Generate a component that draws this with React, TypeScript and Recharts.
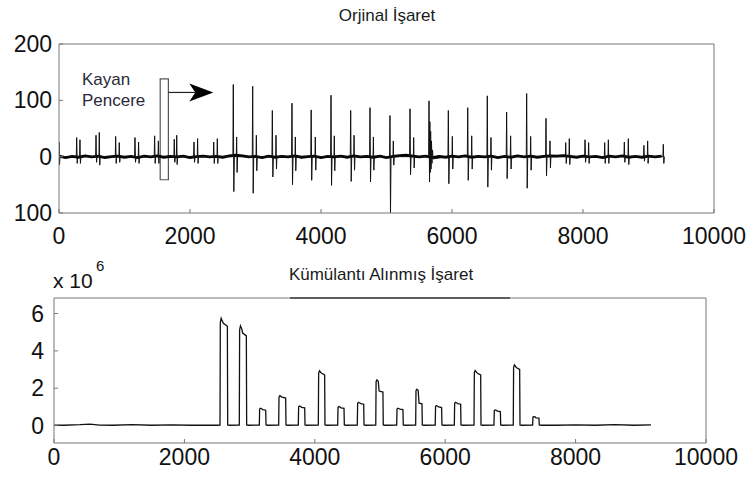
import React from 'react'
import { LineChart, Line, XAxis, YAxis, ReferenceArea, ReferenceLine } from 'recharts'

const xTicks = [0, 2000, 4000, 6000, 8000, 10000]
const topYTicks = [-100, 0, 100, 200]
const bottomYTicks = [0, 2, 4, 6]

// original signal: main spike of every beat
const beatX = [0, 270, 565, 865, 1160, 1460, 1760, 2061, 2362, 2661, 2957, 3257, 3557, 3850, 4153, 4453, 4748, 5053, 5359, 5649, 5944, 6240, 6539, 6834, 7140, 7435, 7736, 8031, 8331, 8631, 8930, 9226]
const beatPeak = [26, 34, 38, 36, 34, 37, 31, 26, 26, 128, 125, 82, 95, 83, 109, 82, 87, 73, 85, 99, 82, 87, 108, 79, 112, 68, 25, 30, 25, 26, 20, 22]
const beatTrough = [-14, -12, -10, -12, -10, -12, -10, -10, -12, -62, -65, -36, -50, -42, -51, -44, -45, -100, -32, -45, -48, -42, -54, -39, -56, -34, -12, -10, -12, -10, -8, -12]

// smaller spike that follows each beat
const waveX = [320, 615, 920, 1215, 1517, 1797, 2116, 2417, 2712, 3013, 3313, 3608, 3913, 4203, 4505, 4800, 5104, 5415, 6005, 6301, 6595, 6895, 7201, 7496, 7791, 8086, 8387, 8692, 8987]
const wavePeak = [30, 43, 25, 26, 28, 38, 32, 32, 35, 38, 38, 35, 35, 37, 38, 35, 28, 34, 36, 37, 34, 37, 36, 28, 32, 25, 30, 32, 28]
const waveTrough = [-12, -15, -10, -12, -12, -14, -12, -12, -28, -25, -22, -25, -24, -25, -24, -24, -15, -20, -22, -22, -24, -22, -24, -20, -14, -12, -12, -14, -12]

// noisy burst near 5650
const burstX = [5662, 5668, 5674, 5680, 5687, 5694, 5702, 5712]
const burstY = [62, -28, 45, -22, 28, -12, 12, -4]

// baseline noise, one value per 100 samples (0 .. 9200)
const noiseY = [
  1, -1.5, 0.5, -1, 1.5, -0.5, 1, -1.5, 0, 1,
  -1, 0.5, -1.5, 1, -0.5, 1.5, -1, 0.5, -0.5, 1,
  -1.5, 0, 1, -0.5, 0.5, -1, 1.5, 2.5, 1.5, -0.5,
  0.5, -1.5, 1, -1, 0.5, -0.5, 1.5, -1, 0, 1,
  -1.5, 0.5, -0.5, 1, -1, 1.5, -0.5, 0.5, -1, 1,
  -1.5, 0.5, 2, 2.5, 1, -0.5, 1, -1.5, 0.5, -1,
  1, -0.5, 1.5, -1, 0.5, -0.5, 1, -1.5, 0.5, -1,
  1.5, -0.5, 1, -1, 0.5, 1.5, 1, 2, 0.5, -1,
  1, -0.5, 0.5, -1.5, 1, -0.5, 1.5, -1, 0.5, -1,
  1, -0.5, 1,
]

// cumulant signal (x 10^6)
const pulseStart = [2546, 2842, 3149, 3446, 3747, 4054, 4351, 4652, 4935, 5256, 5547, 5847, 6140, 6442, 6748, 7044, 7341]
const pulseEnd = [2664, 2955, 3252, 3558, 3850, 4156, 4453, 4755, 5050, 5357, 5649, 5950, 6242, 6549, 6851, 7147, 7443]
const pulsePeak = [5.75, 5.34, 0.93, 1.6, 1.05, 2.93, 1.02, 1.25, 2.45, 0.93, 1.95, 1.07, 1.25, 2.95, 0.84, 3.25, 0.48]
const pulseTail = [5.48, 4.95, 0.85, 1.52, 0.98, 2.8, 0.95, 1.18, 1.85, 0.88, 1.2, 1.0, 1.18, 2.8, 0.78, 3.1, 0.42]
const flatX = [0, 150, 400, 550, 700, 900, 1200, 1500, 1800, 2100, 2400, 2500, 7500, 7700, 8000, 8300, 8600, 8900, 9156]
const flatY = [0.03, 0.02, 0.05, 0.08, 0.03, 0.02, 0.05, 0.02, 0.04, 0.02, 0.03, 0.02, 0.03, 0.02, 0.04, 0.02, 0.05, 0.02, 0.04]

type Pt = { x: number; y: number }
const byX = (a: Pt, b: Pt) => a.x - b.x

const baseline: Pt[] = noiseY.map((y, i) => ({ x: i * 100, y }))

const spikes: Pt[] = (() => {
  const pts: Pt[] = []
  beatX.forEach((x, i) => {
    pts.push({ x: Math.max(0, x - 6), y: 0 }, { x, y: beatPeak[i] }, { x: x + 8, y: beatTrough[i] }, { x: x + 16, y: 0 })
  })
  waveX.forEach((x, i) => {
    pts.push({ x: x - 5, y: 0 }, { x, y: wavePeak[i] }, { x: x + 7, y: waveTrough[i] }, { x: x + 14, y: 0 })
  })
  burstX.forEach((x, i) => pts.push({ x, y: burstY[i] }))
  return pts.sort(byX)
})()

const cumulant: Pt[] = (() => {
  const pts: Pt[] = flatX.map((x, i) => ({ x, y: flatY[i] }))
  pulseStart.forEach((s, i) => {
    const e = pulseEnd[i]
    const p = pulsePeak[i]
    const t = pulseTail[i]
    pts.push(
      { x: s, y: 0.03 },
      { x: s + 5, y: p * 0.96 },
      { x: s + 18, y: p },
      { x: s + 38, y: p * 0.97 },
      { x: s + 52, y: t },
      { x: e - 5, y: t * 0.97 },
      { x: e, y: 0.04 },
      { x: e + 25, y: 0.02 },
    )
  })
  return pts.sort(byX)
})()

const font = '"Liberation Sans", Arial, Helvetica, sans-serif'
const tickStyle = { fill: '#111', fontSize: 23, fontFamily: font }
const boxColor = '#777'

const Arrow = (props: any) => {
  const { x1, y1, x2, y2 } = props
  return (
    <g>
      <line x1={x1} y1={y1} x2={x2 - 18} y2={y2} stroke="#222" strokeWidth={1.2} />
      <path d={`M${x2},${y2} L${x2 - 24},${y2 - 9} L${x2 - 18},${y2} L${x2 - 24},${y2 + 9} Z`} fill="#000" />
    </g>
  )
}

export default function App() {
  return (
    <div style={{ position: 'absolute', left: 0, top: 0, width: 750, height: 481, background: '#fff' }}>
      <div style={{ position: 'absolute', left: 0, top: 0 }}>
        <LineChart width={750} height={250} margin={{ top: 43, right: 35, bottom: 0, left: 0 }}>
          <XAxis xAxisId="b" type="number" dataKey="x" domain={[0, 10000]} ticks={xTicks} interval={0}
            height={37} tickSize={-4} tickMargin={19} stroke={boxColor} tickLine={{ stroke: boxColor }} tick={tickStyle} allowDataOverflow />
          <XAxis xAxisId="t" orientation="top" type="number" dataKey="x" domain={[0, 10000]} ticks={xTicks} interval={0}
            height={1} tickSize={-4} stroke={boxColor} tickLine={{ stroke: boxColor }} tick={false} allowDataOverflow />
          <YAxis yAxisId="l" type="number" domain={[-100, 200]} ticks={topYTicks} interval={0} width={59}
            tickSize={-4} tickMargin={11} stroke={boxColor} tickLine={{ stroke: boxColor }} tick={tickStyle}
            tickFormatter={(v: number) => String(Math.abs(v))} allowDataOverflow />
          <YAxis yAxisId="r" orientation="right" type="number" domain={[-100, 200]} ticks={topYTicks} interval={0} width={1}
            tickSize={-4} stroke={boxColor} tickLine={{ stroke: boxColor }} tick={false} allowDataOverflow />
          <Line xAxisId="b" yAxisId="l" data={baseline} dataKey="y" type="linear" stroke="#000" strokeWidth={2.8} dot={false} isAnimationActive={false} />
          <Line xAxisId="b" yAxisId="l" data={spikes} dataKey="y" type="linear" stroke="#111" strokeWidth={1} dot={false} isAnimationActive={false} />
          <ReferenceArea xAxisId="b" yAxisId="l" x1={1545} x2={1670} y1={-41} y2={138} fill="none" stroke="#555" strokeWidth={1.2} />
          <ReferenceLine xAxisId="b" yAxisId="l" segment={[{ x: 1670, y: 114 }, { x: 2356, y: 114 }]} shape={Arrow} />
        </LineChart>
      </div>
      <div style={{ position: 'absolute', left: 0, top: 250 }}>
        <LineChart width={750} height={231} margin={{ top: 47, right: 43, bottom: 0, left: 0 }}>
          <XAxis xAxisId="b" type="number" dataKey="x" domain={[0, 10000]} ticks={xTicks} interval={0}
            height={38} tickSize={-4} tickMargin={10} stroke={boxColor} tickLine={{ stroke: boxColor }} tick={tickStyle} allowDataOverflow />
          <XAxis xAxisId="t" orientation="top" type="number" dataKey="x" domain={[0, 10000]} ticks={xTicks} interval={0}
            height={1} tickSize={-4} stroke={boxColor} tickLine={{ stroke: boxColor }} tick={false} allowDataOverflow />
          <YAxis yAxisId="l" type="number" domain={[-0.93, 6.83]} ticks={bottomYTicks} interval={0} width={54}
            tickSize={-4} tickMargin={14} stroke={boxColor} tickLine={{ stroke: boxColor }} tick={tickStyle} allowDataOverflow />
          <YAxis yAxisId="r" orientation="right" type="number" domain={[-0.93, 6.83]} ticks={bottomYTicks} interval={0} width={1}
            tickSize={-4} stroke={boxColor} tickLine={{ stroke: boxColor }} tick={false} allowDataOverflow />
          <Line xAxisId="b" yAxisId="l" data={cumulant} dataKey="y" type="linear" stroke="#111" strokeWidth={1.3} dot={false} isAnimationActive={false} />
          <ReferenceLine xAxisId="b" yAxisId="l" segment={[{ x: 3620, y: 6.83 }, { x: 6994, y: 6.83 }]} stroke="#444" strokeWidth={2} ifOverflow="visible" />
        </LineChart>
      </div>
      <svg width={750} height={481} style={{ position: 'absolute', left: 0, top: 0, pointerEvents: 'none' }} fontFamily={font}>
        <text x={387} y={21} fontSize={17} textAnchor="middle" fill="#1a1a1a">Orjinal İşaret</text>
        <text x={82} y={85} fontSize={17} fill="#2a2a3a">Kayan</text>
        <text x={82} y={106} fontSize={17} fill="#2a2a3a">Pencere</text>
        <text x={381} y={280} fontSize={17} textAnchor="middle" fill="#1a1a1a">Kümülantı Alınmış İşaret</text>
        <text x={53} y={288} fontSize={21} fill="#111">x 10</text>
        <text x={96} y={271} fontSize={15} fill="#111">6</text>
      </svg>
    </div>
  )
}
